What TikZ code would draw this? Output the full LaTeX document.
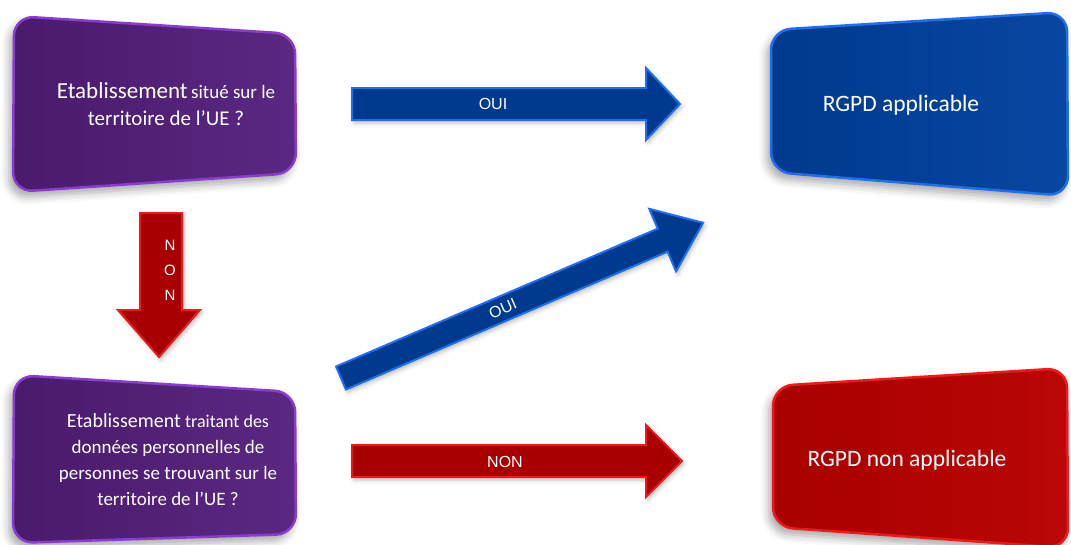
\documentclass[tikz,border=0pt]{standalone}
\usepackage{fontspec}
\setmainfont{Carlito}
\newfontfamily\arrowfont{Liberation Sans}
\usetikzlibrary{shadows.blur}
\definecolor{purpfill}{HTML}{4A1A6C}
\definecolor{purpfillB}{HTML}{5A2882}
\definecolor{purpedge}{HTML}{8A3CD0}
\definecolor{bluefill}{HTML}{003A8E}
\definecolor{bluefillB}{HTML}{0846A2}
\definecolor{blueedge}{HTML}{1E6EF0}
\definecolor{redfill}{HTML}{A80000}
\definecolor{redfillB}{HTML}{BA0606}
\definecolor{rededge}{HTML}{F01818}
\tikzset{
  boxshape/.style={rounded corners=20pt, line width=2.5pt,
    blur shadow={shadow xshift=-4pt, shadow yshift=-6pt, shadow blur radius=8pt, shadow opacity=35}},
  purplebox/.style={boxshape, draw=purpedge, left color=purpfill, right color=purpfillB},
  bluebox/.style={boxshape, draw=blueedge, left color=bluefill, right color=bluefillB},
  redbox/.style={boxshape, draw=rededge, left color=redfill, right color=redfillB},
  bluearrow/.style={fill=bluefill, draw=blueedge, line width=2pt, line join=miter,
    blur shadow={shadow xshift=2pt, shadow yshift=-3pt, shadow blur radius=4pt, shadow opacity=25}},
  redarrow/.style={fill=redfill, draw=rededge, line width=2pt, line join=miter,
    blur shadow={shadow xshift=2pt, shadow yshift=-3pt, shadow blur radius=4pt, shadow opacity=25}},
  boxtext/.style={text=white, align=center, inner sep=0pt},
  arrowlabel/.style={text=white, font=\arrowfont\fontsize{16}{18}\selectfont, inner sep=0pt},
}
\begin{document}
\begin{tikzpicture}[x=1pt,y=-1pt]
\useasboundingbox (0,0) rectangle (1071,544);
% boxes
\path[purplebox] (14,16) -- (295,34) -- (296,173) -- (13,192) -- cycle;
\path[purplebox] (14,375) -- (295,392) -- (296,534) -- (13,543) -- cycle;
\path[bluebox] (771,30) -- (1067,12) -- (1068,196) -- (771,172) -- cycle;
\path[redbox] (773,386) -- (1067,368) -- (1068,548) -- (773,527) -- cycle;
% box texts
\node[boxtext, font=\fontsize{21}{27}\selectfont] (q1) at (166,104) {{\fontsize{23}{27}\selectfont Etablissement}\,{\fontsize{19}{27}\selectfont situé sur le}\\territoire de l'UE ?};
\node[boxtext, font=\fontsize{19}{26}\selectfont] (q2) at (168,460) {{\fontsize{20}{26}\selectfont Etablissement} {\fontsize{18}{26}\selectfont traitant des}\\données personnelles de\\personnes se trouvant sur le\\territoire de l'UE ?};
\node[boxtext, font=\fontsize{23.5}{28}\selectfont] (r1) at (901,105) {RGPD applicable};
\node[boxtext, font=\fontsize{23.5}{28}\selectfont] (r2) at (907,460) {RGPD non applicable};
% top OUI arrow
\path[bluearrow] (352,88) -- (646,88) -- (646,68) -- (680,104) -- (646,140) -- (646,120) -- (352,120) -- cycle;
\node[arrowlabel] (l1) at (493,104) {OUI};
% bottom NON arrow
\path[redarrow] (352,445) -- (646,445) -- (646,425) -- (682,461) -- (646,497) -- (646,477) -- (352,477) -- cycle;
\node[arrowlabel] (l2) at (505,462) {NON};
% diagonal OUI arrow
\begin{scope}[shift={(341,378)}, rotate=23.2]
\path[bluearrow] (0,-12.5) -- (350,-12.5) -- (350,-34) -- (394,0) -- (350,34) -- (350,12.5) -- (0,12.5) -- cycle;
\node[arrowlabel, rotate=23.2] (l3) at (176,0) {OUI};
\end{scope}
% down NON arrow
\path[redarrow] (140,213) -- (182,213) -- (182,310) -- (200,310) -- (159,357) -- (118,310) -- (140,310) -- cycle;
\node[arrowlabel, align=center, font=\arrowfont\fontsize{15}{25}\selectfont] (l4) at (170,270) {N\\O\\N};
\end{tikzpicture}
\end{document}
